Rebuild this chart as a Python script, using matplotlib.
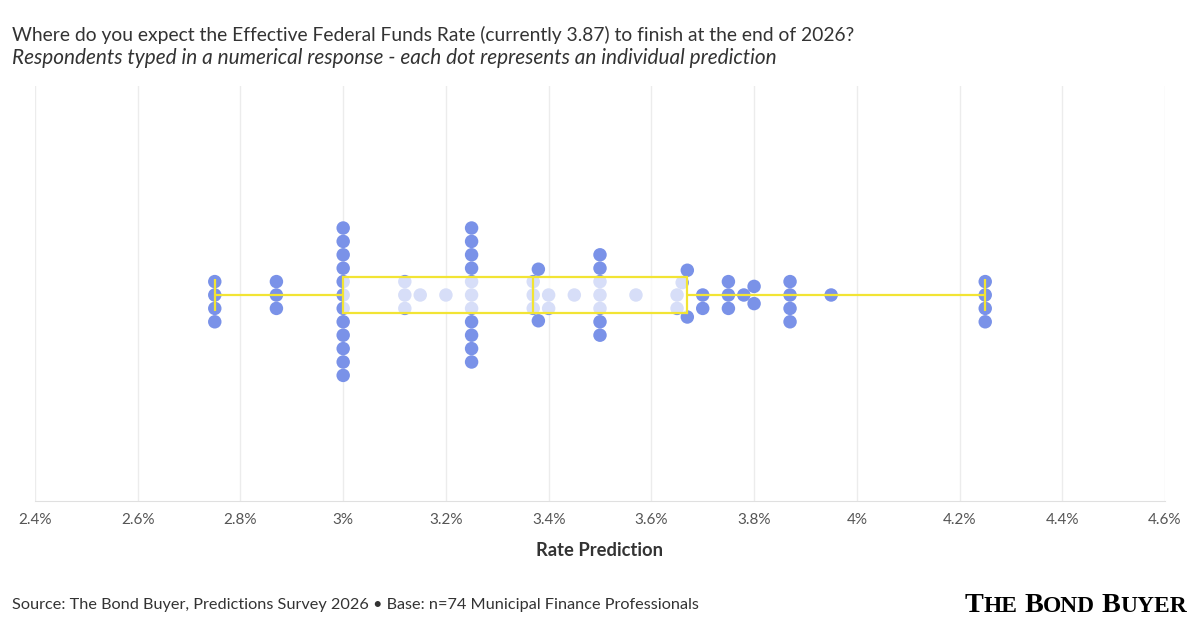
import numpy as np
import matplotlib
matplotlib.use("Agg")
import matplotlib.pyplot as plt
from matplotlib.patches import Rectangle

plt.rcParams["font.family"] = ["Lato", "DejaVu Sans"]

DOT, YELLOW, INK, GRID = "#7a92e8", "#f2e434", "#333333", "#ececec"

# --- survey responses (rate in %, number of respondents) --------------------
rate_values = [2.75, 2.87, 3.00, 3.12, 3.15, 3.20, 3.25, 3.37, 3.38, 3.40, 3.45,
               3.50, 3.57, 3.65, 3.66, 3.67, 3.70, 3.75, 3.78, 3.80, 3.87, 3.95, 4.25]
rate_counts = [4, 3, 12, 3, 1, 1, 11, 3, 2, 2, 1,
               7, 1, 2, 1, 2, 2, 3, 1, 2, 4, 1, 4]
tick_values = [2.4, 2.6, 2.8, 3.0, 3.2, 3.4, 3.6, 3.8, 4.0, 4.2, 4.4, 4.6]

title = "Where do you expect the Effective Federal Funds Rate (currently 3.87) to finish at the end of 2026?"
subtitle = "Respondents typed in a numerical response - each dot represents an individual prediction"
source = "Source: The Bond Buyer, Predictions Survey 2026 \u2022 Base: n=74 Municipal Finance Professionals"

vals = np.repeat(rate_values, rate_counts)

# --- figure ------------------------------------------------------------------
W, H = 1200, 630
fig = plt.figure(figsize=(W / 100, H / 100), dpi=100)
ax = fig.add_axes([35 / W, 129 / H, 1130 / W, 415 / H])
ax.set_xlim(2.4, 4.6)
ax.set_ylim(-206, 209)          # y axis in pixels, 0 = centre line

# --- beeswarm in pixel space -------------------------------------------------
D = 13.4
xpix = ax.transData.transform(np.column_stack([vals, np.zeros_like(vals)]))[:, 0]
px_, py_ = [], []
for xp in xpix:
    cands = [0.0]
    for a, b in zip(px_, py_):
        dx = abs(xp - a)
        if dx < D:
            h = np.sqrt(D * D - dx * dx)
            cands += [b + h, b - h]
    ok = [c for c in cands
          if all((xp - a) ** 2 + (c - b) ** 2 >= D * D - 1e-6 for a, b in zip(px_, py_))]
    best = min(ok, key=lambda c: (round(abs(c), 3), c > 0))
    px_.append(xp)
    py_.append(best)
ys = np.array(py_)

ax.scatter(vals, ys, s=94, color=DOT, edgecolors="none", zorder=2)

# --- box plot ----------------------------------------------------------------
q1, med, q3 = np.percentile(vals, [25, 50, 75])
lo, hi = vals.min(), vals.max()
bh = 18
ax.add_patch(Rectangle((q1, -bh), q3 - q1, 2 * bh, facecolor=(1, 1, 1, 0.7),
                       edgecolor=YELLOW, lw=1.6, zorder=3))
kw = dict(color=YELLOW, lw=1.6, zorder=4, solid_capstyle="butt")
ax.plot([med, med], [-bh, bh], **kw)
ax.plot([lo, q1], [0, 0], **kw)
ax.plot([q3, hi], [0, 0], **kw)
ax.plot([lo, lo], [-16, 16], **kw)
ax.plot([hi, hi], [-16, 16], **kw)

# --- axes styling ------------------------------------------------------------
ax.set_xticks(tick_values)
ax.set_xticklabels([f"{round(v, 1):g}%" for v in tick_values])
ax.set_yticks([])
ax.grid(axis="x", color=GRID, lw=1, zorder=0)
ax.set_axisbelow(True)
for s in ["top", "left", "right"]:
    ax.spines[s].set_visible(False)
ax.spines["bottom"].set_color("#e0e0e0")
ax.tick_params(axis="x", length=0, pad=8.6, labelsize=11, labelcolor="#555555")

# --- texts -------------------------------------------------------------------
fig.text(12 / W, 1 - 40.7 / H, title, fontsize=13.9, color=INK, va="baseline")
fig.text(12 / W, 1 - 63.5 / H, subtitle, fontsize=14.95, color=INK, va="baseline",
         style="italic")
fig.text(0.5, 1 - 551 / H, "Rate Prediction", fontsize=13.2, fontweight="bold",
         color=INK, ha="center", va="center")
fig.text(12 / W, 1 - 609 / H, source, fontsize=11.7, color=INK, va="baseline")

# --- logo: small-caps serif, right aligned ----------------------------------
renderer = fig.canvas.get_renderer()
big, small = 26.0, 21.6
logo_width = 222
pieces = []
for word in ["THE", "BOND", "BUYER"]:
    pieces.append((word[0], big))
    pieces.append((word[1:], small))
    pieces.append((" ", None))
pieces = pieces[:-1]
texts, widths = [], []
for s, size in pieces:
    if size is None:
        texts.append(None)
        widths.append(big * 0.22 / 0.72)
        continue
    t = fig.text(0, 1 - 611.7 / H, s, fontsize=size, family="Liberation Serif",
                 fontweight="bold", color="black", va="baseline")
    texts.append(t)
    widths.append(t.get_window_extent(renderer).width)
k = logo_width / sum(widths)
widths = [w * k for w in widths]
x = 1187 - sum(widths)
for t, w in zip(texts, widths):
    if t is not None:
        t.set_fontsize(t.get_fontsize() * k)
        t.set_x(x / W)
    x += w

fig.savefig("out.png", dpi=100, facecolor="white")
